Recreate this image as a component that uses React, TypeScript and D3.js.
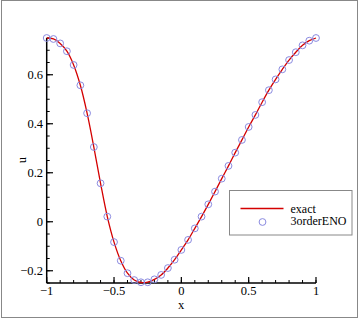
import React from "react";
import * as d3 from "d3";

const xValues = [
  -1, -0.95, -0.9, -0.85, -0.8, -0.75, -0.7, -0.65, -0.6, -0.55, -0.5, -0.45, -0.4, -0.35,
  -0.3, -0.25, -0.2, -0.15, -0.1, -0.05, 0, 0.05, 0.1, 0.15, 0.2, 0.25, 0.3, 0.35, 0.4, 0.45,
  0.5, 0.55, 0.6, 0.65, 0.7, 0.75, 0.8, 0.85, 0.9, 0.95, 1,
];
const enoU = [
  0.75, 0.746, 0.728, 0.696, 0.64, 0.557, 0.443, 0.305, 0.157, 0.021, -0.083, -0.159, -0.21,
  -0.238, -0.247, -0.247, -0.235, -0.217, -0.189, -0.155, -0.115, -0.074, -0.027, 0.021, 0.071,
  0.123, 0.176, 0.228, 0.282, 0.334, 0.387, 0.436, 0.488, 0.537, 0.581, 0.622, 0.66, 0.692,
  0.72, 0.739, 0.75,
];
const exactU = [
  0.75, 0.746, 0.728, 0.696, 0.64, 0.557, 0.443, 0.305, 0.157, 0.021, -0.083, -0.159, -0.21,
  -0.238, -0.248, -0.246, -0.235, -0.217, -0.189, -0.155, -0.115, -0.074, -0.027, 0.021, 0.071,
  0.123, 0.176, 0.228, 0.282, 0.334, 0.387, 0.436, 0.488, 0.537, 0.581, 0.622, 0.66, 0.692,
  0.72, 0.739, 0.75,
];
const xTicks = [-1, -0.5, 0, 0.5, 1];
const yTicks = [-0.2, 0, 0.2, 0.4, 0.6];
const legendLabels = ["exact", "3orderENO"];

const W = 359;
const H = 319;
const FONT = "'Liberation Serif', 'Times New Roman', serif";

export default function App() {
  const x = d3.scaleLinear().domain([-1, 1]).range([46.7, 316]);
  const y = d3.scaleLinear().domain([-0.25, 0.75]).range([283, 38]);
  const line = d3
    .line<number>()
    .x((_, i) => x(xValues[i]))
    .y((d) => y(d))
    .curve(d3.curveCatmullRom);

  const xMinor = d3.range(-1, 1.0001, 0.1).map((v) => +v.toFixed(2));
  const yMinor = d3.range(-0.25, 0.7501, 0.05).map((v) => +v.toFixed(2));
  const fmt = (v: number) => (v === 0 ? "0" : String(v).replace("-", "\u2212"));

  return (
    <svg
      width={W}
      height={H}
      style={{ position: "absolute", left: 0, top: 0, background: "#fff" }}
      fontFamily={FONT}
    >
      <rect x={1.5} y={0.5} width={356} height={317} fill="#fff" stroke="#888" strokeWidth={1} />
      {xMinor.map((v) => (
        <line key={"xm" + v} x1={x(v)} x2={x(v)} y1={283} y2={280} stroke="#000" strokeWidth={1} />
      ))}
      {yMinor.map((v) => (
        <line key={"ym" + v} x1={46.7} x2={49.7} y1={y(v)} y2={y(v)} stroke="#000" strokeWidth={1} />
      ))}
      {xTicks.map((v) => (
        <g key={"xt" + v}>
          <line x1={x(v)} x2={x(v)} y1={283} y2={277} stroke="#000" strokeWidth={1.2} />
          <text x={x(v)} y={295} textAnchor="middle" fontSize={12.5} fill="#000">
            {fmt(v)}
          </text>
        </g>
      ))}
      {yTicks.map((v) => (
        <g key={"yt" + v}>
          <line x1={46.7} x2={53} y1={y(v)} y2={y(v)} stroke="#000" strokeWidth={1.2} />
          <text x={43} y={y(v) + 4} textAnchor="end" fontSize={12.5} fill="#000">
            {fmt(v)}
          </text>
        </g>
      ))}
      <line x1={46.7} x2={46.7} y1={38} y2={283} stroke="#000" strokeWidth={1.5} />
      <line x1={46.7} x2={316} y1={283} y2={283} stroke="#000" strokeWidth={1.5} />
      <text x={181} y={308.5} textAnchor="middle" fontSize={12.5} fill="#000">
        x
      </text>
      <text
        transform={`translate(26,160) rotate(-90)`}
        textAnchor="middle"
        fontSize={12.5}
        fill="#000"
      >
        u
      </text>
      <path d={line(exactU) || ""} fill="none" stroke="#d40000" strokeWidth={1.3} />
      {enoU.map((u, i) => (
        <circle
          key={"c" + i}
          cx={x(xValues[i])}
          cy={y(u)}
          r={3.4}
          fill="none"
          stroke="#8a8ae0"
          strokeWidth={1}
        />
      ))}
      <rect x={229.5} y={190.5} width={122.5} height={44.5} fill="#fff" stroke="#888" strokeWidth={1} />
      <line x1={240.5} x2={283.5} y1={208.5} y2={208.5} stroke="#d40000" strokeWidth={1.3} />
      <circle cx={262.5} cy={222} r={3.4} fill="none" stroke="#8a8ae0" strokeWidth={1} />
      <text x={290.5} y={212.5} fontSize={12} fill="#000">
        {legendLabels[0]}
      </text>
      <text x={290.5} y={225} fontSize={12} fill="#000">
        {legendLabels[1]}
      </text>
    </svg>
  );
}
